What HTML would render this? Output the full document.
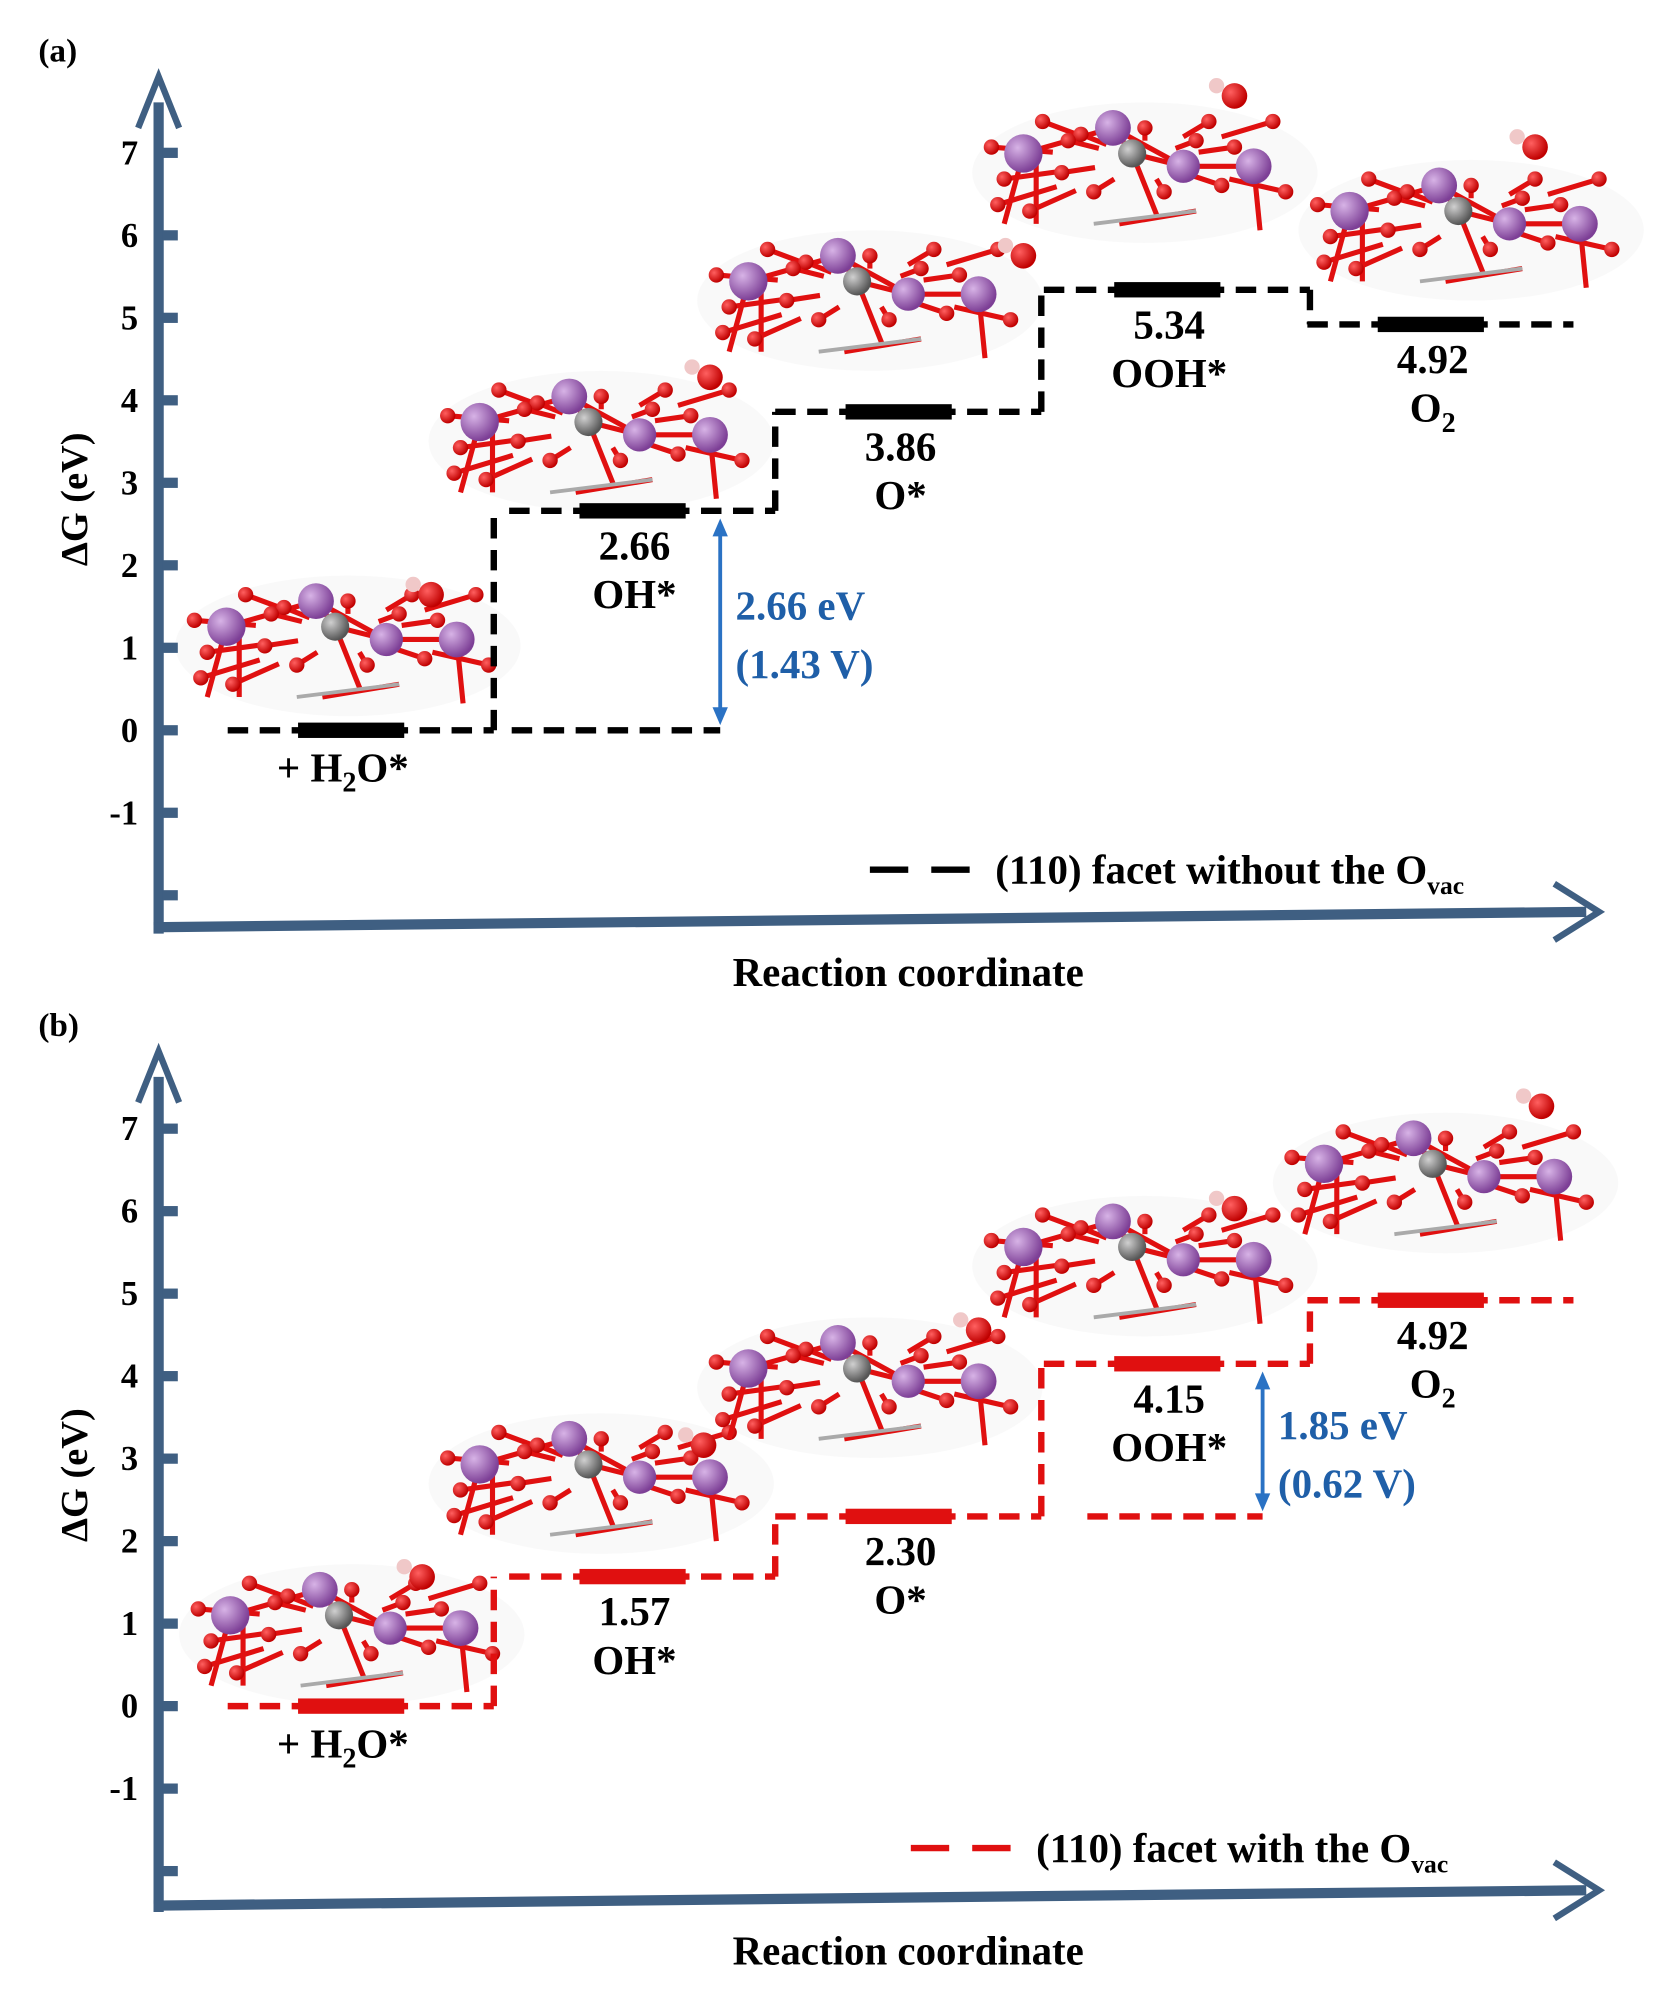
<!DOCTYPE html>
<html><head><meta charset="utf-8"><style>
html,body{margin:0;padding:0;background:#fff;}
svg{display:block;}
text{font-family:"Liberation Serif","Times New Roman",serif;font-weight:bold;}
</style></head><body>
<svg id="fig" width="1663" height="1999" viewBox="0 0 1300 1563" preserveAspectRatio="none" xmlns="http://www.w3.org/2000/svg">
<defs>
<radialGradient id="gp" cx="35%" cy="35%" r="65%"><stop offset="0" stop-color="#d7b3e6"/><stop offset="1" stop-color="#7d3f96"/></radialGradient>
<radialGradient id="gg" cx="35%" cy="35%" r="65%"><stop offset="0" stop-color="#d0d0d0"/><stop offset="1" stop-color="#555"/></radialGradient>
<radialGradient id="gr" cx="35%" cy="35%" r="65%"><stop offset="0" stop-color="#ff6060"/><stop offset="1" stop-color="#c00000"/></radialGradient>
</defs>
<g id="layer"></g>
</svg>
<script>
// Panel data
const steps = ["+ H2O*", "OH*", "O*", "OOH*", "O2"];
const energiesA = [0, 2.66, 3.86, 5.34, 4.92];
const energiesB = [0, 1.57, 2.30, 4.15, 4.92];
const yTicks = [7, 6, 5, 4, 3, 2, 1, 0, -1];
const NS = "http://www.w3.org/2000/svg";
const layer = document.getElementById('layer');
function el(tag, attrs, parent) {
  const e = document.createElementNS(NS, tag);
  for (const k in attrs) e.setAttribute(k, attrs[k]);
  (parent || layer).appendChild(e);
  return e;
}
const AX = "#3f5f82";
const stepX0 = [178, 398, 606, 816, 1022];
const stepW = 208;
const DASH = '16 9';

// molecule template (relative coordinates)
const atomsP = [[-95,-5,15],[-25,-25,14],[30,5,13],[85,5,14]];
const atomsG = [[-10,-5,11]];
const atomsR = [[-120,-10],[-110,15],[-80,-30],[-65,10],[-50,-20],[-40,25],[0,-25],[15,25],[50,-30],[60,20],[100,-30],[110,25],[-115,35],[-90,40],[70,-10],[-60,-15],[40,-15]];
const bonds = [[-95,-5,-25,-25],[-25,-25,30,5],[30,5,85,5],[-95,-5,-110,50],[-85,0,-85,50],[85,5,90,55],[-10,-5,10,45],[40,40,-20,50],[-25,-25,-10,-5],[-10,-5,30,5]];

function molecule(g, cx, cy, adsorbate) {
  el('ellipse',{cx:cx,cy:cy+10,rx:135,ry:55,fill:'#000',opacity:0.025},g);
  bonds.forEach(b=>el('line',{x1:cx+b[0],y1:cy+b[1],x2:cx+b[2],y2:cy+b[3],stroke:'#e01010','stroke-width':4},g));
  atomsR.forEach(a=>el('line',{x1:cx+a[0],y1:cy+a[1],x2:cx+a[0]*0.6,y2:cy+a[1]*0.6,stroke:'#e01010','stroke-width':4},g));
  el('line',{x1:cx-40,y1:cy+50,x2:cx+40,y2:cy+40,stroke:'#aaa','stroke-width':3},g);
  atomsR.forEach(a=>el('circle',{cx:cx+a[0],cy:cy+a[1],r:6,fill:'url(#gr)'},g));
  atomsG.forEach(a=>el('circle',{cx:cx+a[0],cy:cy+a[1],r:a[2],fill:'url(#gg)'},g));
  atomsP.forEach(a=>el('circle',{cx:cx+a[0],cy:cy+a[1],r:a[2],fill:'url(#gp)'},g));
  if (adsorbate) {
    const [ax,ay] = adsorbate;
    el('circle',{cx:cx+ax,cy:cy+ay,r:10,fill:'url(#gr)'},g);
    el('circle',{cx:cx+ax-14,cy:cy+ay-8,r:6,fill:'#f0c8c8'},g);
  }
}

function panel(id, energies, y0, yTop, xAxisY, color, legendText, legendY, legendX, arrowX, arrowFrom, arrowTo, arrowBaseX0, arrowLabels, labelPos, mols) {
  const g = el('g',{});
  
  
  const yS = v => y0 - v * 64.5;
  const pl = el('text',{x:30,y:yTop-12,'font-size':26,fill:'#000'},g);
  pl.textContent = '(' + id + ')';
  
  
  mols.forEach((m,i)=>{
    const mg = el('g',{},g);
    
    
    molecule(mg, m[0], m[1], m[2]);
  });
  const ya = el('g',{},g);
  
  
  el('line',{x1:124,y1:xAxisY+5,x2:124,y2:yTop+20,stroke:AX,'stroke-width':8},ya);
  el('polyline',{points:`108,${yTop+40} 124,${yTop} 140,${yTop+40}`,fill:'none',stroke:AX,'stroke-width':5},ya);
  yTicks.forEach(t=>{
    const y = yS(t);
    el('rect',{x:127,y:y-4,width:12,height:8,fill:AX},ya);
    const tx = el('text',{x:108,y:y+9,'font-size':27,'text-anchor':'end',fill:'#000'},ya);
    tx.textContent = t;
    
    
  });
  el('rect',{x:127,y:yS(-2)-4,width:12,height:8,fill:AX},ya);
  const yt = el('text',{x:0,y:0,'font-size':30,'text-anchor':'middle',fill:'#000',transform:`translate(68,${yS(2.8)}) rotate(-90)`},ya);
  yt.textContent = 'ΔG (eV)';
  
  
  const xa = el('g',{},g);
  
  
  el('line',{x1:120,y1:xAxisY,x2:1240,y2:xAxisY-12,stroke:AX,'stroke-width':8},xa);
  el('polyline',{points:`1215,${xAxisY-34} 1250,${xAxisY-12} 1215,${xAxisY+10}`,fill:'none',stroke:AX,'stroke-width':5},xa);
  const xt = el('text',{x:710,y:xAxisY+46,'font-size':32,'text-anchor':'middle',fill:'#000'},xa);
  xt.textContent = 'Reaction coordinate';
  
  
  const barColor = color === 'black' ? '#000' : '#e01010';
  energies.forEach((e,i)=>{
    const x0 = stepX0[i], x1 = x0 + stepW, y = yS(e);
    const ln = el('line',{x1:x0,y1:y,x2:x1,y2:y,stroke:barColor,'stroke-width':5,'stroke-dasharray':DASH},g);
    
    
    const bar = el('rect',{x:x0+55,y:y-6,width:83,height:12,fill:barColor},g);
    
    
    if (i < energies.length - 1) {
      const v = el('line',{x1:x1,y1:y,x2:x1,y2:yS(energies[i+1]),stroke:barColor,'stroke-width':5,'stroke-dasharray':DASH},g);
      
      
    }
    const cx = x0 + 98;
    const vt = el('text',{x:cx,y:y+38,'font-size':32,'text-anchor':'middle',fill:'#000'},g);
    vt.textContent = e.toFixed(2);
    
    
    const nt = el('text',{x:cx+(i===0?-8:0),y:y+(i===0?40:76),'font-size':32,'text-anchor':'middle',fill:'#000'},g);
    
    
    if (i === 0) { vt.textContent=''; nt.innerHTML = '+ H<tspan font-size="22" dy="8">2</tspan><tspan dy="-8">O*</tspan>'; }
    else if (i === 4) { nt.innerHTML = 'O<tspan font-size="22" dy="8">2</tspan>'; }
    else nt.textContent = steps[i];
  });
  const bl = el('line',{x1:arrowBaseX0,y1:yS(energies[arrowFrom]),x2:arrowX,y2:yS(energies[arrowFrom]),stroke:barColor,'stroke-width':5,'stroke-dasharray':DASH},g);
  
  
  const ag = el('g',{},g);
  
  
  const ya1 = yS(energies[arrowFrom]) - 4, ya2 = yS(energies[arrowTo]) + 6;
  el('line',{x1:arrowX,y1:ya1-8,x2:arrowX,y2:ya2+8,stroke:'#2a72c4','stroke-width':3},ag);
  el('polygon',{points:`${arrowX-6},${ya2+14} ${arrowX},${ya2} ${arrowX+6},${ya2+14}`,fill:'#2a72c4'},ag);
  el('polygon',{points:`${arrowX-6},${ya1-14} ${arrowX},${ya1} ${arrowX+6},${ya1-14}`,fill:'#2a72c4'},ag);
  const mid = (ya1 + ya2) / 2;
  const l1 = el('text',{x:arrowX+12,y:mid-2,'font-size':32,fill:'#1f5fa8'},g);
  l1.textContent = arrowLabels[0];
  
  
  const l2 = el('text',{x:arrowX+12,y:mid+44,'font-size':32,fill:'#1f5fa8'},g);
  l2.textContent = arrowLabels[1];
  
  
  const lg = el('g',{},g);
  
  
  el('line',{x1:legendX,y1:legendY,x2:legendX+78,y2:legendY,stroke:barColor,'stroke-width':5,'stroke-dasharray':'30 18'},lg);
  const lt = el('text',{x:legendX+98,y:legendY+11,'font-size':32,fill:'#000'},lg);
  lt.innerHTML = legendText + ' O<tspan font-size="20" dy="8">vac</tspan>';
}

panel('a', energiesA, 571, 60, 725, 'black', '(110) facet without the', 680, 680, 563, 0, 1, 400,
  ['2.66 eV','(1.43 V)'], null,
  [[272,495,[65,-30]],[470,335,[85,-40]],[680,225,[120,-25]],[895,125,[70,-50]],[1150,170,[50,-55]]]);
panel('b', energiesB, 1334, 822, 1490, 'red', '(110) facet with the', 1445, 712, 987, 2, 3, 850,
  ['1.85 eV','(0.62 V)'], null,
  [[275,1268,[55,-35]],[470,1150,[80,-20]],[680,1075,[85,-35]],[895,980,[70,-35]],[1130,915,[75,-50]]]);
</script>
</body></html>
